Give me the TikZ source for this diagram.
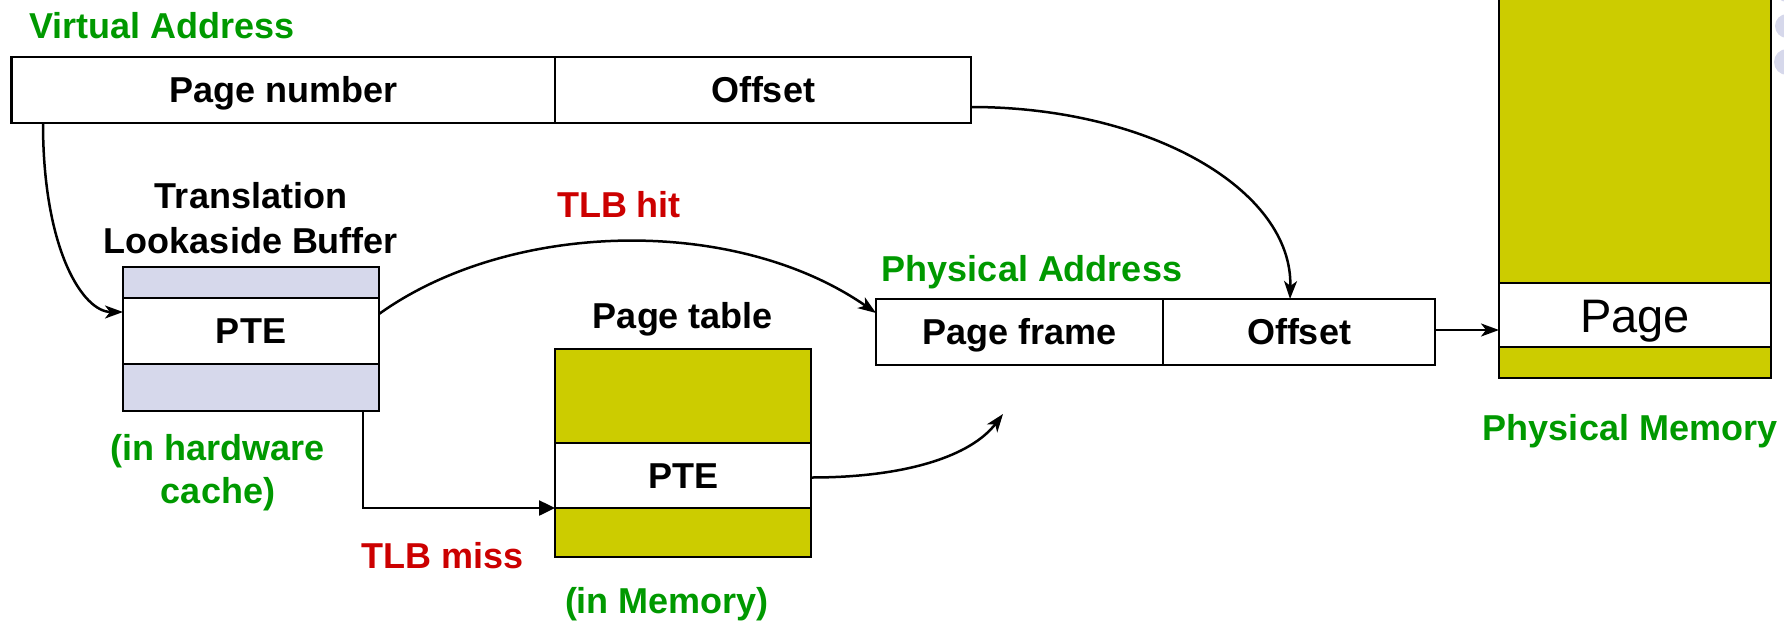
\documentclass[tikz,border=0pt]{standalone}
\usepackage{fontspec}
\setmainfont{Liberation Sans}
\usetikzlibrary{arrows.meta,calc}
\definecolor{olive}{HTML}{CCCC00}
\definecolor{lav}{HTML}{D6D8EB}
\definecolor{grn}{HTML}{009900}
\definecolor{rd}{HTML}{CC0000}
\tikzset{
  cell/.style={draw=black, line width=2.3pt, inner sep=0pt, outer sep=0pt,
    font=\fontsize{36}{43}\selectfont\bfseries, text height=25.8pt, text depth=0pt},
  lbl/.style={inner sep=0pt, outer sep=0pt, anchor=base, align=center,
    font=\fontsize{36}{44}\selectfont\bfseries},
  conn/.style={line width=2.5pt, draw=black},
  stl/.style={-{Stealth[length=18pt,width=13pt,inset=5pt]}},
  tri/.style={-{Triangle[length=16pt,width=15pt]}}
}
\begin{document}
\begin{tikzpicture}[x=1pt,y=-1pt]
\useasboundingbox (0,0) rectangle (1784,624);
% decorative circles at the right edge
\fill[lav] (1787,-10) circle (12);
\fill[lav] (1787,26) circle (12);
\fill[lav] (1787,62) circle (13);

% Virtual address
\node[lbl, anchor=base west, text=grn] (valbl) at (29,38) {Virtual Address};
\node[cell, fill=white, minimum width=543.5pt, minimum height=66pt] (vapn) at (283.25,90) {Page number};
\node[cell, fill=white, minimum width=416pt, minimum height=66pt] (vaoff) at (763,90) {Offset};

% TLB
\node[lbl, text=black, font=\fontsize{36}{45}\selectfont\bfseries] (tlblbl) at (251,253) {Translation\\Lookaside Buffer};
\node[cell, fill=lav, minimum width=256pt, minimum height=31pt] (tlbtop) at (251,282.5) {};
\node[cell, fill=white, minimum width=256pt, minimum height=66pt] (tlbpte) at (251,331) {PTE};
\node[cell, fill=lav, minimum width=256pt, minimum height=47pt] (tlbbot) at (251,387.5) {};
\node[lbl, text=grn, font=\fontsize{36}{43}\selectfont\bfseries] (hwlbl) at (218,503) {(in hardware\\cache)};

% Page table
\node[lbl, text=black] (ptlbl) at (683,328) {Page table};
\node[cell, fill=olive, minimum width=256pt, minimum height=94pt] (pttop) at (683,396) {};
\node[cell, fill=white, minimum width=256pt, minimum height=65pt] (ptpte) at (683,475.5) {PTE};
\node[cell, fill=olive, minimum width=256pt, minimum height=49pt] (ptbot) at (683,532.5) {};
\node[lbl, text=grn] (memlbl) at (667,613) {(in Memory)};

% labels on connectors
\node[lbl, text=rd] (hitlbl) at (619,217) {TLB hit};
\node[lbl, text=rd] (misslbl) at (443,568) {TLB miss};

% Physical address
\node[lbl, text=grn] (palbl) at (1032,281) {Physical Address};
\node[cell, fill=white, minimum width=287pt, minimum height=66pt] (pafr) at (1019.5,332) {Page frame};
\node[cell, fill=white, minimum width=272pt, minimum height=66pt] (paoff) at (1299,332) {Offset};

% Physical memory
\node[cell, fill=olive, minimum width=272pt, minimum height=303pt] (pmtop) at (1635,131.5) {};
\node[cell, fill=white, minimum width=272pt, minimum height=64pt,
      font=\fontsize{47}{56}\selectfont, text height=34pt] (pmpage) at (1635,315) {Page};
\node[cell, fill=olive, minimum width=272pt, minimum height=31pt] (pmbot) at (1635,362.5) {};
\node[lbl, text=grn] (pmlbl) at (1630,440) {Physical Memory};

% connectors
\coordinate (vastart) at ($(vapn.south west)+(31.5,0)$);
\draw[conn, stl] (vastart) .. controls +(0,127) and +(-40,0) .. ($(tlbpte.north west)+(0,14)$);

\draw[conn, stl] ($(tlbpte.north east)+(0,16)$) .. controls +(131,-94) and +(-141,-98) .. ($(pafr.north west)+(0,14)$);

\coordinate (missstart) at ($(tlbbot.south east)+(-16,0)$);
\draw[conn, tri] (missstart) |- (ptbot.north west);

\coordinate (ptend) at (1003,414);
\draw[conn, stl] ($(ptpte.east)+(0,2)$) .. controls +(95,0) and +(-32,42) .. (ptend);

\draw[conn, stl] ($(vaoff.north east)+(0,50)$) .. controls +(179,0) and +(3,-109) .. ($(paoff.north west)+(127,0)$);

\draw[conn, stl] ($(paoff.east)+(0,-2)$) -- ($(paoff.east -| pmpage.west)+(0,-2)$);
\end{tikzpicture}
\end{document}
